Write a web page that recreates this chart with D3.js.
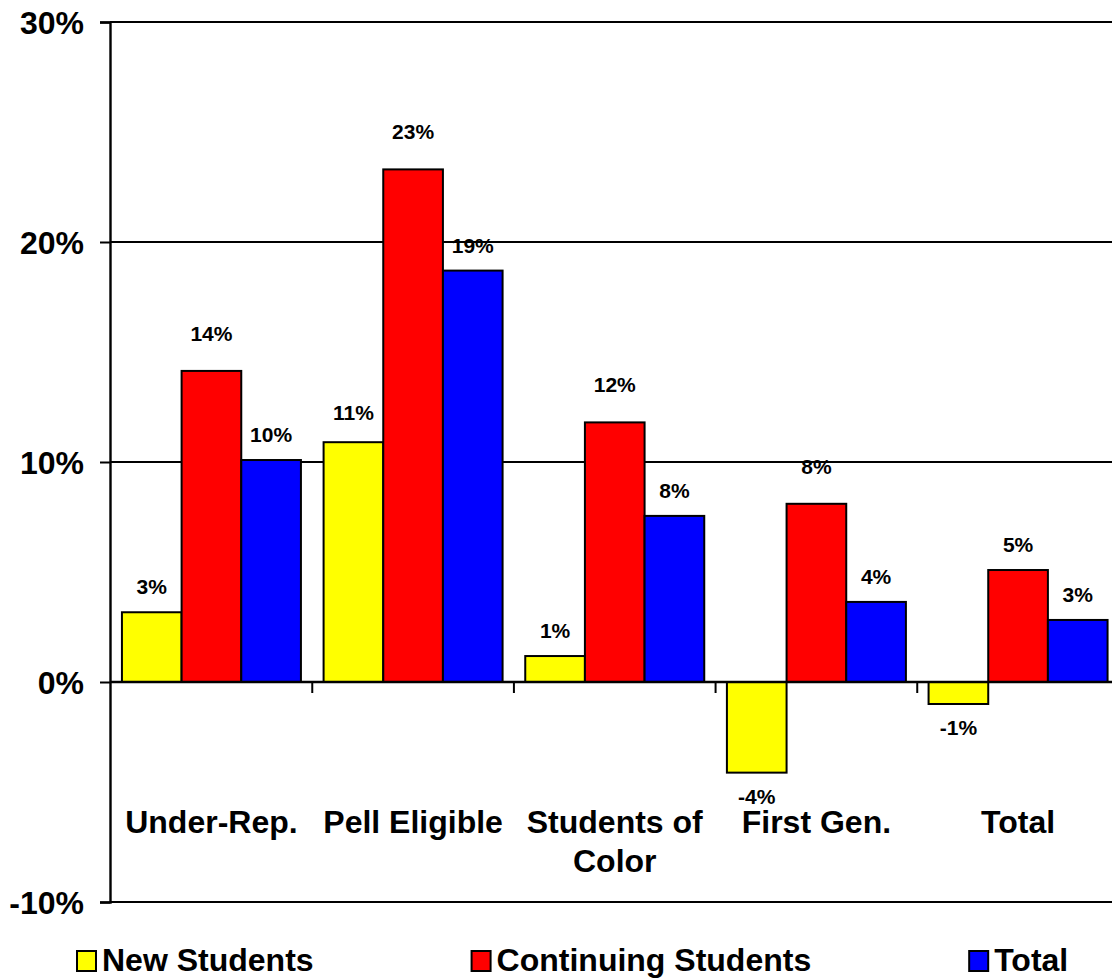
<!DOCTYPE html>
<html>
<head>
<meta charset="utf-8">
<script src="https://cdn.jsdelivr.net/npm/d3@7/dist/d3.min.js"></script>
<style>
  html, body { margin: 0; padding: 0; background: #fff; overflow: hidden; }
  svg { display: block; font-family: Arial, "Liberation Sans", Helvetica, sans-serif; font-weight: bold; }
</style>
</head>
<body>
<svg id="chart" width="1112" height="979"></svg>
<script>
// ---- data ----
const categories = ["Under-Rep.", "Pell Eligible", "Students of Color", "First Gen.", "Total"];
const categoryLines = [["Under-Rep."], ["Pell Eligible"], ["Students of", "Color"], ["First Gen."], ["Total"]];
const seriesNames = ["New Students", "Continuing Students", "Total"];
const newStudents = [3.17, 10.9, 1.18, -4.12, -1.0];
const continuingStudents = [14.14, 23.3, 11.8, 8.1, 5.09];
const totalStudents = [10.09, 18.7, 7.55, 3.64, 2.82];
const yTicks = [-10, 0, 10, 20, 30];
const yTickLabels = ["-10%", "0%", "10%", "20%", "30%"];

// ---- styles / layout ----
const colors = ["#FFFF00", "#FF0000", "#0000FF"];
// label lift above positive bars, per series, per category (pixels)
const labelLift = [
  [18, 22, 18, 18, 18],
  [30, 30, 30, 30, 18],
  [18, 18, 18, 18, 18]
];

const seriesValues = [newStudents, continuingStudents, totalStudents];
const svg = d3.select("#chart");

const x0 = d3.scaleBand().domain(categories).range([110.6, 1118.9]).paddingInner(0.1124).paddingOuter(0.0562);
const x1 = d3.scaleBand().domain(seriesNames).range([0, x0.bandwidth()]).padding(0);
const y = d3.scaleLinear().domain([-10, 30]).range([902, 22]);

const plotLeft = 110, plotRight = 1112;

// gridlines / frame
svg.append("g").selectAll("line").data(yTicks.filter(t => t !== 0)).join("line")
  .attr("x1", plotLeft).attr("x2", plotRight)
  .attr("y1", d => y(d)).attr("y2", d => y(d))
  .attr("stroke", "#000").attr("stroke-width", 2);

// y axis
const yAxis = d3.axisLeft(y).tickValues(yTicks).tickSize(10).tickFormat((d, i) => yTickLabels[i]);
const gy = svg.append("g").attr("transform", `translate(${plotLeft},0)`).call(yAxis);
gy.select(".domain").attr("stroke", "#000").attr("stroke-width", 2.4);
gy.selectAll(".tick line").attr("stroke", "#000").attr("stroke-width", 2);
gy.selectAll(".tick text").attr("x", -26).attr("dy", "0.35em")
  .style("font-size", "32px").style("font-weight", "bold").style("font-family", "Arial, 'Liberation Sans', sans-serif").attr("fill", "#000");

// bars
const groups = svg.append("g").selectAll("g").data(categories).join("g")
  .attr("transform", d => `translate(${x0(d)},0)`);

groups.selectAll("rect").data((c, ci) => seriesNames.map((s, si) => ({ s, si, ci, v: seriesValues[si][ci] }))).join("rect")
  .attr("x", d => x1(d.s))
  .attr("width", x1.bandwidth())
  .attr("y", d => y(Math.max(0, d.v)))
  .attr("height", d => Math.abs(y(d.v) - y(0)))
  .attr("fill", d => colors[d.si])
  .attr("stroke", "#000").attr("stroke-width", 2);

// zero axis line
svg.append("line").attr("x1", plotLeft).attr("x2", plotRight).attr("y1", y(0)).attr("y2", y(0))
  .attr("stroke", "#000").attr("stroke-width", 2.4);

// category ticks (band boundaries)
const boundaries = categories.slice(1).map(c => x0(c) - x0.step() * x0.paddingInner() / 2);
svg.append("g").selectAll("line").data(boundaries).join("line")
  .attr("x1", d => d).attr("x2", d => d)
  .attr("y1", y(0)).attr("y2", y(0) + 11)
  .attr("stroke", "#000").attr("stroke-width", 2);

// data labels
groups.selectAll("text.val").data((c, ci) => seriesNames.map((s, si) => ({ s, si, ci, v: seriesValues[si][ci] }))).join("text")
  .attr("class", "val")
  .attr("x", d => x1(d.s) + x1.bandwidth() / 2)
  .attr("y", d => d.v >= 0 ? y(d.v) - labelLift[d.si][d.ci] : y(d.v) + 31)
  .attr("text-anchor", "middle")
  .style("font-size", "21px").attr("fill", "#000")
  .text(d => Math.round(d.v) + "%");

// category labels
const catG = svg.append("g").selectAll("text").data(categories).join("text")
  .attr("x", d => x0(d) + x0.bandwidth() / 2)
  .attr("y", 833)
  .attr("text-anchor", "middle")
  .style("font-size", "32px").attr("fill", "#000");
catG.selectAll("tspan").data((d, i) => categoryLines[i]).join("tspan")
  .attr("x", function () { return d3.select(this.parentNode).attr("x"); })
  .attr("dy", (d, i) => i === 0 ? 0 : 39)
  .text(d => d);

// legend
const legend = svg.append("g");
let lx = 77;
seriesNames.forEach((name, i) => {
  const g = legend.append("g").attr("transform", `translate(${lx},0)`);
  g.append("rect").attr("x", 0).attr("y", 951).attr("width", 19).attr("height", 20)
    .attr("fill", colors[i]).attr("stroke", "#000").attr("stroke-width", 2);
  const t = g.append("text").attr("x", 25).attr("y", 971).style("font-size", "32px").attr("fill", "#000").text(name);
  lx += 25 + t.node().getComputedTextLength() + 158;
});
</script>
</body>
</html>
